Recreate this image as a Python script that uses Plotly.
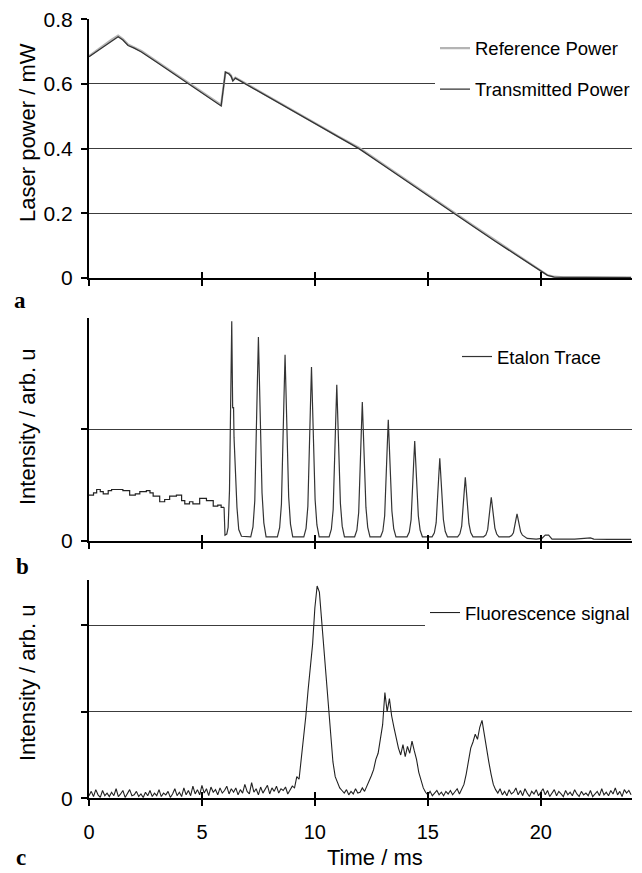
import plotly.graph_objects as go

# ---------------- Panel a: laser power ----------------
power_t = [0, 0.5, 1.0, 1.29, 1.5, 1.73, 2.0, 2.32, 3.0, 4.0, 5.0, 5.85, 6.04, 6.2, 6.29,
           6.37, 6.48, 7.5, 8.57, 9.5, 10.19, 11.0, 11.95, 13.0, 14.0, 15.0, 16.14, 17.0,
           18.0, 19.0, 19.6, 20.0, 20.3, 20.6, 21.0, 22.0, 23.0, 24.0]
transmitted_mw = [0.684, 0.709, 0.734, 0.746, 0.736, 0.719, 0.711, 0.699, 0.667, 0.620, 0.573,
                  0.532, 0.637, 0.631, 0.624, 0.609, 0.618, 0.577, 0.534, 0.497, 0.469, 0.436,
                  0.400, 0.350, 0.302, 0.255, 0.200, 0.160, 0.113, 0.067, 0.040, 0.020, 0.008,
                  0.003, 0.002, 0.002, 0.001, 0.001]
reference_mw = [0.686, 0.712, 0.737, 0.750, 0.739, 0.722, 0.714, 0.702, 0.670, 0.623, 0.576,
                0.535, 0.636, 0.633, 0.626, 0.612, 0.620, 0.580, 0.537, 0.500, 0.472, 0.439,
                0.403, 0.353, 0.305, 0.258, 0.203, 0.163, 0.116, 0.070, 0.042, 0.022, 0.009,
                0.004, 0.002, 0.002, 0.002, 0.002]

# ---------------- Panel b: etalon trace ----------------
etalon_step_t = [0, 0.2, 0.34, 0.5, 0.63, 0.85, 1.0, 1.25, 1.5, 1.8, 2.05, 2.25, 2.54, 2.7,
                 2.84, 3.13, 3.35, 3.57, 3.87, 4.1, 4.24, 4.45, 4.6, 4.9, 5.2, 5.5, 5.7, 5.85, 5.98]
etalon_step_v = [0.41, 0.43, 0.46, 0.44, 0.42, 0.45, 0.46, 0.46, 0.45, 0.41, 0.42, 0.44, 0.45,
                 0.43, 0.40, 0.35, 0.37, 0.40, 0.41, 0.36, 0.33, 0.35, 0.33, 0.38, 0.36, 0.31,
                 0.32, 0.30, 0.30]
etalon_first_t = [5.98, 6.0, 6.02, 6.1, 6.16, 6.22, 6.27, 6.32, 6.36, 6.40, 6.42, 6.48, 6.55, 6.63, 6.75]
etalon_first_v = [0.30, 0.06, 0.05, 0.06, 0.12, 0.45, 1.10, 1.97, 1.19, 1.20, 0.93, 0.60, 0.30, 0.10, 0.04]
etalon_peak_t = [7.50, 8.68, 9.85, 10.97, 12.10, 13.25, 14.42, 15.53, 16.66, 17.81, 18.95]
etalon_peak_h = [1.83, 1.67, 1.56, 1.40, 1.245, 1.087, 0.895, 0.74, 0.57, 0.39, 0.24]
etalon_base = 0.035
peak_shape_dt = [-0.34, -0.24, -0.16, -0.10, -0.05, 0.0, 0.05, 0.10, 0.16, 0.24, 0.34]
peak_shape_f = [0.0, 0.05, 0.18, 0.42, 0.75, 1.0, 0.78, 0.47, 0.22, 0.07, 0.0]
etalon_tail_t = [19.4, 19.8, 20.05, 20.2, 20.35, 20.5, 21.5, 22.2, 22.35, 23.0, 24.0]
etalon_tail_v = [0.02, 0.015, 0.02, 0.05, 0.05, 0.015, 0.015, 0.025, 0.015, 0.012, 0.012]

# ---------------- Panel c: fluorescence ----------------
fluor_dt = 0.1
fluor_v = [
    0.03, 0.08, 0.02, 0.10, 0.04, 0.01, 0.09, 0.03, 0.06, 0.02,
    0.07, 0.03, 0.11, 0.02, 0.05, 0.09, 0.01, 0.06, 0.10, 0.03,
    0.04, 0.08, 0.02, 0.05, 0.01, 0.07, 0.03, 0.09, 0.02, 0.06,
    0.03, 0.10, 0.02, 0.06, 0.04, 0.08, 0.01, 0.05, 0.11, 0.03,
    0.07, 0.02, 0.12, 0.04, 0.09, 0.03, 0.14, 0.05, 0.10, 0.04,
    0.15, 0.06, 0.11, 0.03, 0.13, 0.07, 0.10, 0.04, 0.12, 0.06,
    0.09, 0.14, 0.05, 0.11, 0.07, 0.12, 0.04, 0.10, 0.06, 0.16,
    0.08, 0.05, 0.18, 0.07, 0.11, 0.04, 0.13, 0.06, 0.10, 0.15,
    0.05, 0.12, 0.08, 0.14, 0.06, 0.11, 0.09, 0.13, 0.05, 0.10,
    0.14, 0.12, 0.25, 0.22, 0.45, 0.68, 0.95, 1.25, 1.50, 1.78,
    2.20, 2.45, 2.38, 2.05, 1.75, 1.35, 1.05, 0.72, 0.42, 0.25,
    0.18, 0.12, 0.09, 0.06, 0.10, 0.04, 0.08, 0.05, 0.11, 0.06,
    0.07, 0.12, 0.08, 0.14, 0.18, 0.26, 0.33, 0.45, 0.52, 0.70,
    0.85, 1.22, 1.00, 1.15, 0.95, 0.82, 0.68, 0.58, 0.50, 0.62,
    0.48, 0.60, 0.52, 0.66, 0.55, 0.45, 0.30, 0.20, 0.12, 0.07,
    0.04, 0.08, 0.03, 0.06, 0.09, 0.04, 0.07, 0.03, 0.08, 0.05,
    0.09, 0.04, 0.07, 0.11, 0.05, 0.10, 0.16, 0.28, 0.45, 0.58,
    0.65, 0.74, 0.68, 0.82, 0.90, 0.72, 0.56, 0.42, 0.28, 0.16,
    0.10, 0.06, 0.11, 0.04, 0.08, 0.03, 0.10, 0.05, 0.07, 0.12,
    0.04, 0.09, 0.03, 0.11, 0.06, 0.02, 0.08, 0.05, 0.10, 0.03,
    0.07, 0.11, 0.04, 0.09, 0.02, 0.06, 0.10, 0.03, 0.08, 0.05,
    0.02, 0.09, 0.04, 0.07, 0.03, 0.10, 0.05, 0.02, 0.08, 0.04,
    0.06, 0.03, 0.09, 0.02, 0.05, 0.08, 0.03, 0.11, 0.04, 0.07,
    0.03, 0.09, 0.05, 0.12, 0.04, 0.08, 0.02, 0.10, 0.06, 0.09,
    0.04]
fluor_t = [round(i * fluor_dt, 2) for i in range(len(fluor_v))]

x_ticks = [0, 5, 10, 15, 20]

# build etalon peak trace from the read peak positions/heights
etalon_t = list(etalon_first_t)
etalon_v = list(etalon_first_v)
for c, h in zip(etalon_peak_t, etalon_peak_h):
    for dt, f in zip(peak_shape_dt, peak_shape_f):
        etalon_t.append(round(c + dt, 3))
        etalon_v.append(etalon_base + f * (h - etalon_base))
etalon_t += etalon_tail_t
etalon_v += etalon_tail_v

W, H = 642, 873
FONT = "Liberation Sans, Arial, sans-serif"
XR = [0, 24.04]
xdom = [89 / W, 632 / W]
dom_a = [1 - 278 / H, 1 - 19.3 / H]
dom_b = [1 - 540.7 / H, 1 - 318 / H]
dom_c = [1 - 798.3 / H, 1 - 580 / H]

fig = go.Figure()
fig.add_trace(go.Scatter(x=power_t, y=reference_mw, mode="lines", name="Reference Power",
                         line=dict(color="#b4b4b4", width=2.2), xaxis="x", yaxis="y",
                         legend="legend", legendgroup="ref"))
fig.add_trace(go.Scatter(x=power_t, y=transmitted_mw, mode="lines", name="Transmitted Power",
                         line=dict(color="#333333", width=1.3), xaxis="x", yaxis="y",
                         legend="legend", legendgroup="tra"))
fig.add_trace(go.Scatter(x=etalon_step_t, y=etalon_step_v, mode="lines", line_shape="hv",
                         line=dict(color="#222222", width=1.2), xaxis="x2", yaxis="y2",
                         showlegend=False))
fig.add_trace(go.Scatter(x=etalon_t, y=etalon_v, mode="lines", name="Etalon Trace",
                         line=dict(color="#333333", width=1.2), xaxis="x2", yaxis="y2",
                         legend="legend2"))
fig.add_trace(go.Scatter(x=fluor_t, y=fluor_v, mode="lines", name="Fluorescence signal",
                         line=dict(color="#222222", width=1.1), xaxis="x3", yaxis="y3",
                         legend="legend3"))
# empty helper traces so the inside-tick overlay axes get drawn
for xa, ya in (("x4", "y"), ("x5", "y2"), ("x6", "y3")):
    fig.add_trace(go.Scatter(x=[None], y=[None], mode="lines", xaxis=xa, yaxis=ya,
                             showlegend=False, hoverinfo="skip"))

xbase = dict(range=XR, domain=xdom, showgrid=False, zeroline=False, showline=True,
             linecolor="black", linewidth=2, ticks="outside", ticklen=6, tickwidth=2,
             tickcolor="black", tickmode="array", tickvals=x_ticks, automargin=False,
             tickfont=dict(family=FONT, size=20, color="black"))
xin = dict(range=XR, showgrid=False, zeroline=False, showline=False, ticks="inside",
           ticklen=6, tickwidth=2, tickcolor="black", tickmode="array", tickvals=x_ticks,
           showticklabels=False, side="bottom", automargin=False)
ybase = dict(showgrid=True, gridcolor="#3c3c3c", gridwidth=1, zeroline=False, showline=True,
             linecolor="black", linewidth=2, ticks="outside", ticklen=6, tickwidth=2,
             tickcolor="black", tickmode="array", ticklabelstandoff=4, automargin=False,
             tickfont=dict(family=FONT, size=21, color="black"))

legfont = dict(family=FONT, size=18.5, color="black")
fig.update_layout(
    width=W, height=H, margin=dict(l=0, r=0, t=0, b=0, autoexpand=False),
    paper_bgcolor="white", plot_bgcolor="white", showlegend=True,
    xaxis=dict(xbase, anchor="y", showticklabels=False),
    xaxis2=dict(xbase, anchor="y2", showticklabels=False),
    xaxis3=dict(xbase, anchor="y3", showticklabels=True, ticklabelstandoff=9),
    xaxis4=dict(xin, overlaying="x", anchor="y"),
    xaxis5=dict(xin, overlaying="x2", anchor="y2"),
    xaxis6=dict(xin, overlaying="x3", anchor="y3"),
    yaxis=dict(ybase, domain=dom_a, anchor="x", range=[0, 0.8],
               tickvals=[0, 0.2, 0.4, 0.6, 0.8], ticktext=["0", "0.2", "0.4", "0.6", "0.8"]),
    yaxis2=dict(ybase, domain=dom_b, anchor="x2", range=[0, 2],
                tickvals=[0, 1], ticktext=["0", ""]),
    yaxis3=dict(ybase, domain=dom_c, anchor="x3", range=[0, 2.52],
                tickvals=[0, 1, 2], ticktext=["0", "", ""]),
    legend=dict(x=435 / W, xanchor="left", y=1 - 69 / H, yanchor="middle",
                bgcolor="white", borderwidth=0, traceorder="grouped", tracegroupgap=14,
                font=legfont),
    legend2=dict(x=457 / W, xanchor="left", y=1 - 357 / H, yanchor="middle",
                 bgcolor="white", borderwidth=0, font=legfont),
    legend3=dict(x=425 / W, xanchor="left", y=1 - 613 / H, yanchor="middle",
                 bgcolor="white", borderwidth=0, font=legfont),
)

ytitle_font = dict(family=FONT, size=22, color="black")
label_font = dict(family="Liberation Serif, Times New Roman, serif", size=23, color="black")
annos = [
    dict(text="Laser power / mW", x=27 / W, y=1 - 133 / H, textangle=-90, font=ytitle_font,
         yanchor="middle"),
    dict(text="Intensity / arb. u", x=27 / W, y=1 - 427 / H, textangle=-90, font=ytitle_font,
         yanchor="middle"),
    dict(text="Intensity / arb. u", x=27 / W, y=1 - 683 / H, textangle=-90, font=ytitle_font,
         yanchor="middle"),
    dict(text="Time / ms", x=375 / W, y=1 - 857 / H, font=dict(family=FONT, size=22, color="black"),
         yanchor="middle"),
    dict(text="<b>a</b>", x=20 / W, y=1 - 300 / H, font=label_font, yanchor="middle"),
    dict(text="<b>b</b>", x=23 / W, y=1 - 566 / H, font=label_font, yanchor="middle"),
    dict(text="<b>c</b>", x=21 / W, y=0.002, font=label_font, yanchor="bottom", borderpad=0),
]
for a in annos:
    fig.add_annotation(xref="paper", yref="paper", xanchor="center",
                       showarrow=False, **a)

fig.write_html("out.html")
